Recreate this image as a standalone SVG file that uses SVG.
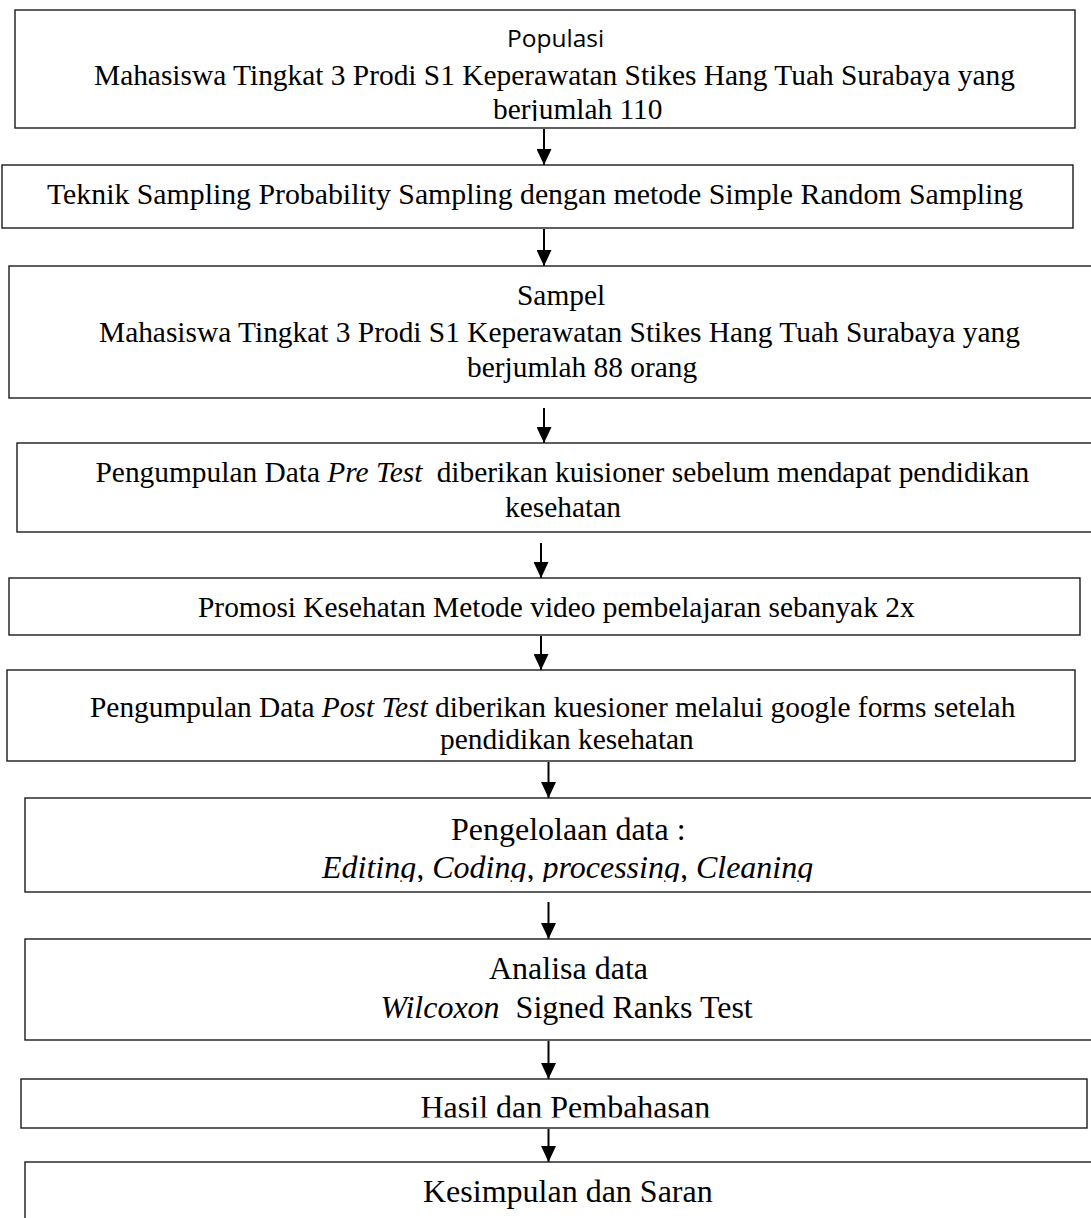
<svg xmlns="http://www.w3.org/2000/svg" width="1091" height="1218" viewBox="0 0 1091 1218">
<style>
.box{fill:#fff;stroke:#1a1a1a;stroke-width:1.4}
.t{font-family:"Liberation Serif","Times New Roman",serif;font-size:29.4px;fill:#000}
.tb{font-family:"Liberation Serif","Times New Roman",serif;font-size:32px;fill:#000}
.s{font-family:"Open Sans","Noto Sans",sans-serif;font-size:24.5px;fill:#000}
.i{font-style:italic}
.c{stroke:#000;stroke-width:2;fill:none;marker-end:url(#ah)}
</style>
<defs>
<marker id="ah" markerUnits="userSpaceOnUse" markerWidth="16" markerHeight="15" refX="16" refY="7.5" orient="auto" viewBox="0 0 16 15">
<path d="M0,0 L16,7.5 L0,15 z" fill="#000"/>
</marker>
<clipPath id="cp1"><rect x="0" y="0" width="1091" height="121"/></clipPath>
<clipPath id="cp7"><rect x="0" y="0" width="1091" height="882"/></clipPath>
<clipPath id="cp9"><rect x="0" y="0" width="1091" height="1117.5"/></clipPath>
</defs>
<rect width="1091" height="1218" fill="#fff"/>

<g id="connectors">
<line class="c" x1="544" y1="129" x2="544" y2="165"/>
<line class="c" x1="544" y1="229" x2="544" y2="266"/>
<line class="c" x1="544" y1="408" x2="544" y2="443"/>
<line class="c" x1="541" y1="543" x2="541" y2="578"/>
<line class="c" x1="541" y1="636" x2="541" y2="670"/>
<line class="c" x1="548.5" y1="762" x2="548.5" y2="798"/>
<line class="c" x1="548.5" y1="902" x2="548.5" y2="939"/>
<line class="c" x1="548.5" y1="1041" x2="548.5" y2="1079"/>
<line class="c" x1="548.5" y1="1129" x2="548.5" y2="1162"/>
</g>

<g id="populasi">
<rect class="box" x="15" y="10" width="1060" height="118"/>
<text class="s" x="507" y="47">Populasi</text>
<text class="t" x="94" y="85">Mahasiswa Tingkat 3 Prodi S1 Keperawatan Stikes Hang Tuah Surabaya yang</text>
<text class="t" x="493" y="119" clip-path="url(#cp1)">berjumlah 110</text>
</g>

<g id="teknik">
<rect class="box" x="2" y="165" width="1071" height="63"/>
<text class="t" x="47" y="203.5" style="font-size:29.8px">Teknik Sampling Probability Sampling dengan metode Simple Random Sampling</text>
</g>

<g id="sampel">
<rect class="box" x="9" y="266" width="1100" height="132"/>
<text class="t" x="517" y="305">Sampel</text>
<text class="t" x="99" y="342">Mahasiswa Tingkat 3 Prodi S1 Keperawatan Stikes Hang Tuah Surabaya yang</text>
<text class="t" x="467" y="377">berjumlah 88 orang</text>
</g>

<g id="pretest">
<rect class="box" x="17" y="443" width="1100" height="89"/>
<text class="t" x="95.5" y="482">Pengumpulan Data <tspan class="i">Pre Test</tspan> <tspan dx="7">diberikan kuisioner sebelum mendapat pendidikan</tspan></text>
<text class="t" x="505" y="517">kesehatan</text>
</g>

<g id="promosi">
<rect class="box" x="9" y="578" width="1071" height="57"/>
<text class="t" x="198" y="616.5">Promosi Kesehatan Metode video pembelajaran sebanyak 2x</text>
</g>

<g id="posttest">
<rect class="box" x="7" y="670" width="1068" height="91"/>
<text class="t" x="90" y="717">Pengumpulan Data <tspan class="i">Post Test</tspan> diberikan kuesioner melalui google forms setelah</text>
<text class="t" x="440" y="749">pendidikan kesehatan</text>
</g>

<g id="pengelolaan">
<rect class="box" x="25" y="798" width="1100" height="94"/>
<text class="tb" x="451" y="840">Pengelolaan data :</text>
<text class="tb i" x="322" y="878" clip-path="url(#cp7)">Editing, Coding, processing, Cleaning</text>
</g>

<g id="analisa">
<rect class="box" x="25" y="939" width="1100" height="101"/>
<text class="tb" x="489" y="979">Analisa data</text>
<text class="tb" x="380.5" y="1018"><tspan class="i">Wilcoxon</tspan> <tspan dx="8">Signed Ranks Test</tspan></text>
</g>

<g id="hasil">
<rect class="box" x="21" y="1079" width="1066" height="49"/>
<text class="tb" x="420.5" y="1118" clip-path="url(#cp9)">Hasil dan Pembahasan</text>
</g>

<g id="kesimpulan">
<rect class="box" x="25" y="1162" width="1100" height="80"/>
<text class="tb" x="423" y="1202">Kesimpulan dan Saran</text>
</g>
</svg>
